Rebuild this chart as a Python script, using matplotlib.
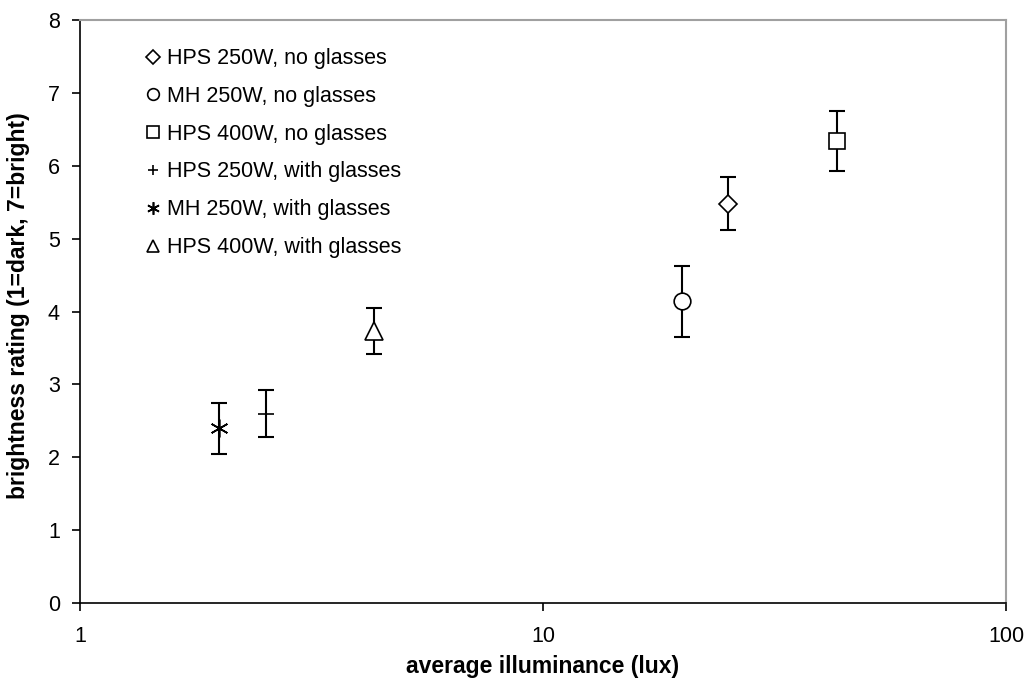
import matplotlib
matplotlib.use('Agg')
import matplotlib.pyplot as plt

# brightness rating vs illuminance
labels = ['HPS 250W, no glasses', 'MH 250W, no glasses', 'HPS 400W, no glasses',
          'HPS 250W, with glasses', 'MH 250W, with glasses', 'HPS 400W, with glasses']
illuminance = [25.1, 20.0, 43.1, 2.52, 2.0, 4.31]
rating = [5.48, 4.14, 6.34, 2.60, 2.40, 3.73]
rating_err = [0.365, 0.49, 0.41, 0.32, 0.35, 0.32]

markers = ['D', 'o', 's', '+', (6, 2, 0), '^']
msizes = [9.5, 12, 12, 11, 13, 13]

plt.rcParams['font.family'] = ['Liberation Sans', 'DejaVu Sans']

fig = plt.figure(figsize=(10.3, 6.9), dpi=100)
ax = fig.add_subplot(111)
fig.subplots_adjust(left=80/1030, right=1006/1030, top=1-20/690, bottom=1-603/690)

handles = []
for i in range(len(labels)):
    ax.errorbar(illuminance[i], rating[i], yerr=rating_err[i], fmt='none',
                ecolor='black', elinewidth=1.5, capsize=6, capthick=1.5, zorder=2)
    h, = ax.plot(illuminance[i], rating[i], linestyle='none', marker=markers[i],
                 markersize=msizes[i], markerfacecolor='white', markeredgecolor='black',
                 markeredgewidth=1.2, zorder=3, label=labels[i])
    handles.append(h)

ax.set_xscale('log')
ax.set_xlim(1, 100)
ax.set_ylim(0, 8)
ax.set_xticks([1, 10, 100])
ax.set_xticklabels(['1', '10', '100'])
ax.minorticks_off()
ax.set_yticks(range(0, 9))

for s in ['top', 'right']:
    ax.spines[s].set_color('#a0a0a0')
    ax.spines[s].set_linewidth(1.5)
for s in ['left', 'bottom']:
    ax.spines[s].set_color('black')
    ax.spines[s].set_linewidth(1.2)

ax.tick_params(axis='both', direction='out', length=5.5, width=1.2, labelsize=15.5)
ax.tick_params(axis='x', pad=11)
ax.tick_params(axis='y', pad=9)

lab_font = dict(family=['Liberation Sans', 'DejaVu Sans'], weight='bold', size=16.5)
ax.set_xlabel('average illuminance (lux)', fontdict=lab_font, labelpad=6)
ax.set_ylabel('brightness rating (1=dark, 7=bright)', fontdict=lab_font)
ax.yaxis.set_label_coords(-0.054, 0.51)

leg = ax.legend(handles=handles, loc='upper left', bbox_to_anchor=(0.05, 0.985),
                frameon=False, fontsize=15.5, markerscale=0.7, handlelength=0.7,
                handletextpad=0.3, labelspacing=0.78)

fig.savefig('out.png', dpi=100)
